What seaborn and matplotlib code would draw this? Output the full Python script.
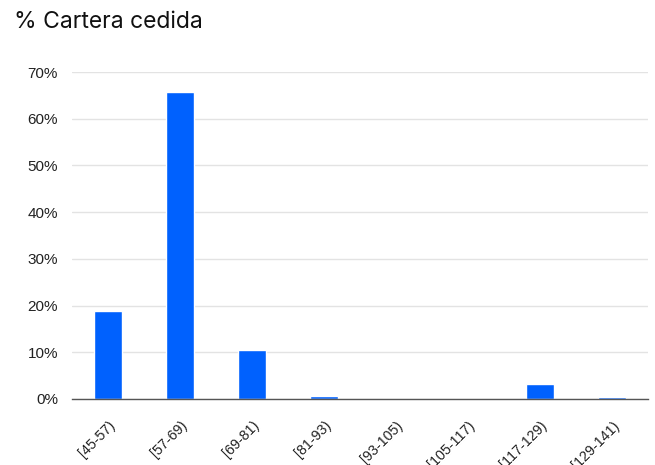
import matplotlib
matplotlib.use("Agg")
import matplotlib.pyplot as plt
import matplotlib.transforms as mtransforms
import seaborn as sns
import pandas as pd

categories = ["[45-57)", "[57-69)", "[69-81)", "[81-93)", "[93-105)",
              "[105-117)", "[117-129)", "[129-141)"]
values = [18.8, 65.7, 10.5, 0.6, 0.0, 0.0, 3.2, 0.5]
yticks = [0, 10, 20, 30, 40, 50, 60, 70]
ytick_labels = ["0%", "10%", "20%", "30%", "40%", "50%", "60%", "70%"]
title = "% Cartera cedida"

df = pd.DataFrame({"cat": categories, "val": values})

sns.set_theme(style="white")
plt.rcParams["font.family"] = ["Liberation Sans", "DejaVu Sans"]

fig = plt.figure(figsize=(6.55, 4.65), dpi=100)
ax = fig.add_axes([72/655, 1 - 399/465, 576/655, (399 - 72)/465])

sns.barplot(data=df, x="cat", y="val", color="#0061FE", width=0.40,
            saturation=1, ax=ax, zorder=3)

ax.set_ylim(0, 70)
ax.set_xlim(-0.5, len(categories) - 0.5)
ax.set_yticks(yticks)
ax.set_yticklabels(ytick_labels, fontsize=11, color="#222222")
ax.set_xticks(range(len(categories)))
ax.set_xticklabels(categories, rotation=45, ha="right", rotation_mode="anchor",
                   fontsize=10.3, color="#222222")
offset = mtransforms.ScaledTranslation(5/100, 0, fig.dpi_scale_trans)
for lbl in ax.get_xticklabels():
    lbl.set_transform(lbl.get_transform() + offset)
ax.tick_params(axis="y", length=0, pad=10)
ax.tick_params(axis="x", length=0, pad=14)
ax.set_xlabel("")
ax.set_ylabel("")
ax.grid(axis="y", color="#e3e3e3", linewidth=1.0, zorder=0)
for s in ["top", "right", "left"]:
    ax.spines[s].set_visible(False)
ax.spines["bottom"].set_color("#555555")
ax.spines["bottom"].set_linewidth(1.0)
ax.spines["bottom"].set_zorder(4)

fig.text(14/655, 1 - 28/465, title, fontsize=16.5, family=["Inter", "DejaVu Sans"],
         color="#111111", ha="left", va="baseline")

fig.savefig("out.png", dpi=100)
